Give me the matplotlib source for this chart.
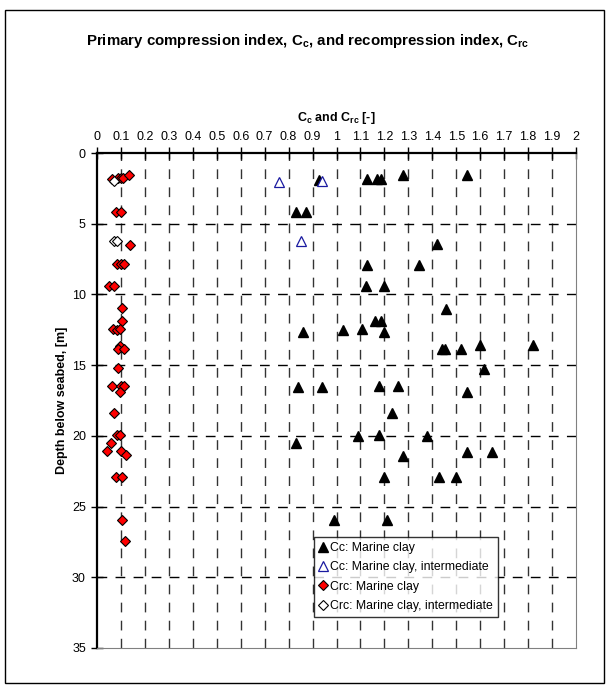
import numpy as np
import matplotlib.pyplot as plt
from matplotlib.patches import Rectangle

plt.rcParams['font.family'] = ['Liberation Sans', 'DejaVu Sans']

# ---- data (index value, depth in m) ----
cc_x = [1.129, 1.168, 1.185, 1.276, 1.545, 0.928,
        0.831, 0.871, 1.418, 1.129, 1.346, 1.124, 1.198, 1.458,
        1.159, 1.186, 1.028, 1.108, 1.198, 0.859,
        1.440, 1.452, 1.518, 1.599, 1.819, 1.617,
        1.179, 1.258, 1.546, 1.230, 1.088, 1.179, 1.377,
        1.278, 1.546, 1.649, 1.200, 1.428, 1.499, 0.990, 1.211,
        0.839, 0.938, 0.831]
cc_z = [1.86, 1.86, 1.86, 1.58, 1.58, 1.93,
        4.19, 4.19, 6.45, 7.89, 7.89, 9.40, 9.40, 11.0,
        11.9, 11.9, 12.48, 12.44, 12.65, 12.65,
        13.87, 13.87, 13.87, 13.6, 13.6, 15.24,
        16.47, 16.47, 16.9, 18.37, 20.0, 19.95, 20.0,
        21.41, 21.15, 21.15, 22.94, 22.94, 22.94, 25.96, 25.96,
        16.54, 16.54, 20.54]

cc_int_x = [0.760, 0.938, 0.850]
cc_int_z = [2.05, 2.0, 6.24]

crc_x = [0.061, 0.086, 0.100, 0.107, 0.132,
         0.081, 0.100, 0.136,
         0.084, 0.100, 0.111, 0.050, 0.072,
         0.106, 0.106, 0.067, 0.082, 0.096,
         0.097, 0.089, 0.111, 0.088,
         0.061, 0.100, 0.111, 0.097, 0.072,
         0.084, 0.097, 0.058, 0.042, 0.100, 0.120,
         0.078, 0.106, 0.103, 0.117]
crc_z = [1.84, 1.74, 1.74, 1.74, 1.58,
         4.19, 4.19, 6.48,
         7.87, 7.87, 7.87, 9.40, 9.40,
         10.95, 11.87, 12.46, 12.55, 12.41,
         13.64, 13.87, 13.87, 15.2,
         16.47, 16.44, 16.44, 16.93, 18.4,
         19.97, 19.97, 20.5, 21.1, 21.1, 21.38,
         22.92, 22.92, 25.94, 27.4]

crc_int_x = [0.072, 0.070, 0.082]
crc_int_z = [2.0, 6.19, 6.19]

x_ticks = np.round(np.arange(0, 2.01, 0.1), 1)
y_ticks = [0, 5, 10, 15, 20, 25, 30, 35]

fig = plt.figure(figsize=(6.15, 6.93), dpi=100)
ax = fig.add_axes([97/615, 1 - 648/693, (576 - 97)/615, (648 - 153)/693])

# outer chart border
fig.patches.append(Rectangle((5/615, 1 - 683/693), 599/615, 673/693,
                             transform=fig.transFigure, fill=False,
                             edgecolor='black', linewidth=1.0))

ax.plot(cc_x, cc_z, '^', color='black', markersize=7.5, linestyle='none',
        label='Cc: Marine clay', zorder=3)
ax.plot(cc_int_x, cc_int_z, '^', markerfacecolor='white', markeredgecolor='#1a1aa0',
        markersize=7.5, markeredgewidth=0.9, linestyle='none',
        label='Cc: Marine clay, intermediate', zorder=4)
ax.plot(crc_x, crc_z, 'D', markerfacecolor='red', markeredgecolor='black',
        markersize=5.5, markeredgewidth=0.8, linestyle='none',
        label='Crc: Marine clay', zorder=3)
ax.plot(crc_int_x, crc_int_z, 'D', markerfacecolor='white', markeredgecolor='black',
        markersize=5.5, markeredgewidth=0.8, linestyle='none',
        label='Crc: Marine clay, intermediate', zorder=4)

ax.set_xlim(0, 2)
ax.set_ylim(35, 0)
ax.xaxis.tick_top()
ax.xaxis.set_label_position('top')
ax.set_xticks(x_ticks)
ax.set_xticklabels(['%g' % v for v in x_ticks])
ax.set_yticks(y_ticks)
ax.tick_params(axis='both', direction='inout', length=8, width=1.0,
               labelsize=9, pad=4)
ax.tick_params(axis='x', pad=3)

for v in x_ticks[1:-1]:
    ax.axvline(v, color='#333333', linewidth=1.0, dashes=(7, 6), zorder=1)
for v in y_ticks[1:-1]:
    ax.axhline(v, color='black', linewidth=1.0, dashes=(7, 6), zorder=1)

ax.spines['top'].set_linewidth(1.6)
ax.spines['left'].set_linewidth(1.6)
ax.spines['right'].set_color('#808080')
ax.spines['bottom'].set_color('#808080')

ax.set_xlabel('C$_\\mathregular{c}$ and C$_\\mathregular{rc}$ [-]', fontsize=9,
              fontweight='bold')
ax.xaxis.set_label_coords(0.5, 1 + 35/495)
ax.xaxis.label.set_va('center')
ax.set_ylabel('Depth below seabed, [m]', fontsize=9, fontweight='bold')
ax.yaxis.set_label_coords(-35/479, 0.5)
ax.yaxis.label.set_va('center')

fig.text(0.5, 1 - 41/693,
         'Primary compression index, C$_\\mathregular{c}$, and recompression index, C$_\\mathregular{rc}$',
         ha='center', va='center', fontsize=10.8, fontweight='bold')

leg = ax.legend(loc='lower left', bbox_to_anchor=(0.453, 0.063), borderaxespad=0,
                fontsize=8.8, frameon=True, fancybox=False, handlelength=0.6,
                handletextpad=0.3, borderpad=0.4, labelspacing=0.6)
leg.get_frame().set_edgecolor('black')
leg.get_frame().set_linewidth(1.0)

fig.savefig('out.png', dpi=100)
